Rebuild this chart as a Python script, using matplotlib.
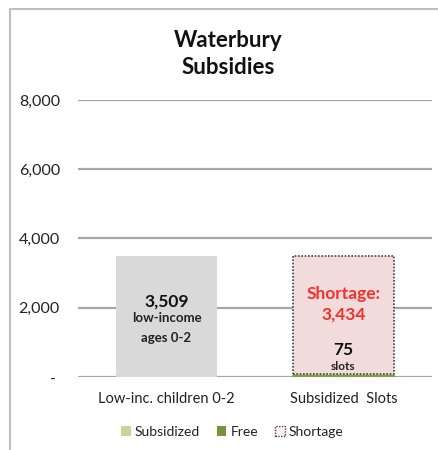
import matplotlib.pyplot as plt
from matplotlib.lines import Line2D
from matplotlib.patches import Patch

plt.rcParams['font.family'] = ['Lato', 'DejaVu Sans']

categories = ['Low-inc. children 0-2', 'Subsidized  Slots']
low_income = [3509, 0]
subsidized = [0, 75]
free = [0, 0]
shortage = [0, 3434]
yticks = [0, 2000, 4000, 6000, 8000]

fig = plt.figure(figsize=(4.38, 4.5), dpi=100)
ax = fig.add_axes([0.178, 0.1622, 0.808, 0.6156])

x = [0, 1]
w = 0.57
ax.bar(x, low_income, width=w, color='#D9D9D9', zorder=2)
ax.bar(x, subsidized, width=w, color='#C3D69B', zorder=2)
base = [s + f for s, f in zip(subsidized, free)]
ax.bar(x, free, width=w, bottom=subsidized, color='#77933C', zorder=2)
ax.bar(x[1], shortage[1], width=w, bottom=base[1], color='#F2DCDB',
       edgecolor='#404040', linestyle=(0, (1, 1)), linewidth=1.2, zorder=3)
# thin green base line under shortage bar
ax.plot([x[1] - w / 2, x[1] + w / 2], [subsidized[1] / 2] * 2,
        color='#77933C', lw=1.2, zorder=4)

ax.set_xlim(-0.5, 1.5)
ax.set_ylim(0, 8000)
ax.set_yticks(yticks)
ax.set_yticklabels(['- '] + [f'{v:,}' for v in yticks[1:]])
ax.tick_params(axis='y', length=0, pad=13, labelsize=11.5, colors='#222222')
ax.tick_params(axis='x', length=0, pad=11, labelsize=10.5, colors='#222222')
ax.set_xticks(x)
ax.set_xticklabels(categories)
ax.grid(axis='y', color='#A6A6A6', lw=1.6, zorder=0)
ax.set_axisbelow(True)
for s in ax.spines.values():
    s.set_visible(False)

# labels inside bars
ax.text(0, 2180, f'{low_income[0]:,}', ha='center', va='center',
        fontsize=12.5, fontweight='bold', color='#111111')
ax.text(0, 1700, 'low-income', ha='center', va='center',
        fontsize=9.5, fontweight='bold', color='#222222')
ax.text(0, 1130, 'ages 0-2', ha='center', va='center',
        fontsize=9.5, fontweight='bold', color='#222222')
ax.text(1, 2400, 'Shortage:', ha='center', va='center',
        fontsize=12.5, fontweight='bold', color='#F2302E')
ax.text(1, 1800, f'{shortage[1]:,}', ha='center', va='center',
        fontsize=12.5, fontweight='bold', color='#F2302E')
ax.text(1, 770, f'{subsidized[1]}', ha='center', va='center',
        fontsize=12.5, fontweight='bold', color='#111111')
ax.text(1, 300, 'slots', ha='center', va='center',
        fontsize=8.5, fontweight='bold', color='#222222')

fig.text(0.52, 0.91, 'Waterbury', ha='center', va='center',
         fontsize=16, fontweight='bold', color='#111111')
fig.text(0.52, 0.85, 'Subsidies', ha='center', va='center',
         fontsize=16, fontweight='bold', color='#111111')

handles = [Patch(facecolor='#C3D69B', edgecolor='none'),
           Patch(facecolor='#77933C', edgecolor='none'),
           Patch(facecolor='#FBF0F0', edgecolor='#404040', linestyle=(0, (1, 1)), linewidth=1)]
fig.legend(handles, ['Subsidized', 'Free', 'Shortage'], loc='center',
           bbox_to_anchor=(0.53, 0.04), ncol=3, frameon=False, fontsize=10,
           handlelength=0.7, handleheight=0.7, handletextpad=0.3, columnspacing=1.2,
           labelcolor='#222222')

# chart frame
fig.add_artist(Line2D([10 / 438, 10 / 438], [0, 1 - 9 / 450], color='#BFBFBF', lw=1.5))
fig.add_artist(Line2D([10 / 438, 1], [1 - 9 / 450, 1 - 9 / 450], color='#BFBFBF', lw=1.5))

fig.savefig('out.png', dpi=100)
